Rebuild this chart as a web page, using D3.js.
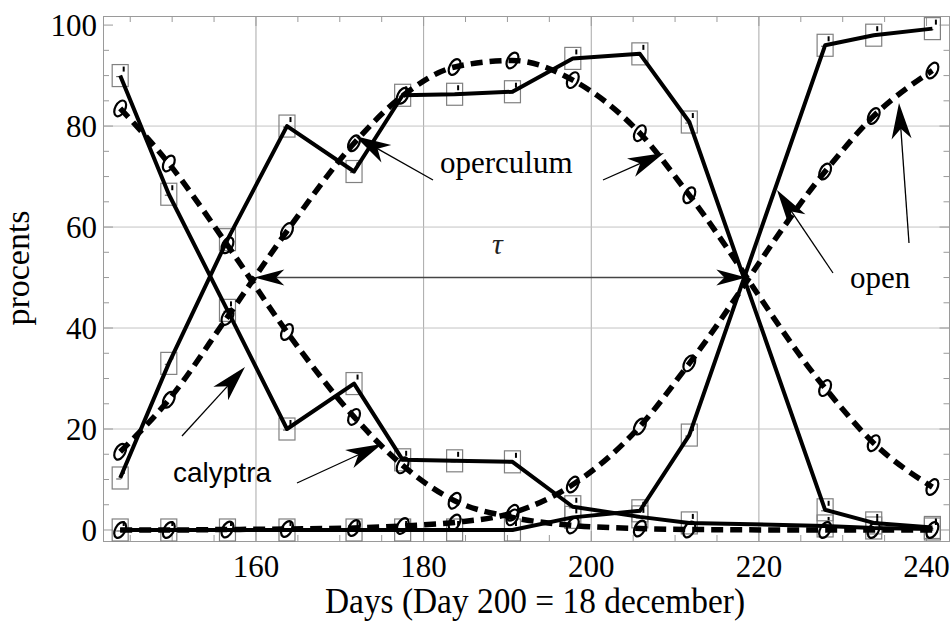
<!DOCTYPE html>
<html><head><meta charset="utf-8">
<script src="https://cdn.jsdelivr.net/npm/d3@7"></script>
<style>body{margin:0;background:#fff}svg{display:block}</style>
</head><body><svg id="c" width="951" height="625"></svg>
<script>
// ---- data ----
const days           = [143.8, 149.6, 156.6, 163.7, 171.7, 177.5, 183.7, 190.6, 197.8, 205.8, 211.7, 227.9, 233.7, 240.7];
const calyptraObs    = [90, 66.5, 43.5, 20, 29, 13.9, 13.7, 13.5, 4.6, 2.6, 1.4, 0.8, 0.4, 0.2];
const operculumObs   = [10.3, 33, 57.5, 80, 71, 86.1, 86.3, 86.8, 93.4, 94.3, 80.8, 4, 1.4, 0.5];
const openObs        = [0, 0, 0, 0, 0, 0, 0, 0, 2.5, 3.8, 18.8, 96, 98, 99.3];
const calyptraModel  = [83.5, 72.6, 56.4, 39.2, 22.4, 12.8, 5.8, 2.5, 0.9, 0.3, 0.1, 0, 0, 0];
const operculumModel = [15.5, 25.8, 42.2, 59.2, 76.6, 86, 91.7, 93, 89.1, 78.6, 66.3, 28.1, 17.2, 8.5];
const openModel      = [0, 0, 0.1, 0.2, 0.4, 0.8, 1.5, 3.4, 9, 20.5, 33, 71, 82, 91];
const xTickLabels = [160, 180, 200, 220, 240];
const yTickLabels = [0, 20, 40, 60, 80, 100];
const xGrid = [160, 180, 200, 220];
const yGrid = [20, 40, 60, 80];
const tauStart = 159.8, tauEnd = 218.5, tauLevel = 50;

// ---- drawing ----
const svg = d3.select('#c');
const L = 103, R = 949.5, T = 16, B = 541;
const x = d3.scaleLinear().domain([141.75, 242.8]).range([L, 950]);
const y = d3.scaleLinear().domain([-2.18, 101.8]).range([B, T]);
const serif = "'Liberation Serif','Times New Roman',serif";
const sans = "'Liberation Sans',Arial,sans-serif";

// grid
svg.append('g').selectAll('line').data(xGrid).join('line')
  .attr('x1', d => x(d)).attr('x2', d => x(d)).attr('y1', T).attr('y2', B)
  .attr('stroke', '#a8a8a8').attr('stroke-width', 1);
svg.append('g').selectAll('line').data(yGrid).join('line')
  .attr('y1', d => y(d)).attr('y2', d => y(d)).attr('x1', L).attr('x2', R)
  .attr('stroke', '#c4c4c4').attr('stroke-width', 1);

// frame
svg.append('rect').attr('x', L + 0.5).attr('y', T + 0.5).attr('width', R - L - 0.5).attr('height', B - T)
  .attr('fill', 'none').attr('stroke', '#9a9a9a').attr('stroke-width', 1);

// ticks
const tk = svg.append('g').attr('stroke', '#9a9a9a').attr('stroke-width', 1);
const xMinor = d3.range(145, 242, 5), yMinor = d3.range(0, 101, 5);
xMinor.forEach(d => {
  const len = d % 20 === 0 ? 10 : 6;
  tk.append('line').attr('x1', x(d)).attr('x2', x(d)).attr('y1', B).attr('y2', B - len);
  tk.append('line').attr('x1', x(d)).attr('x2', x(d)).attr('y1', T).attr('y2', T + len);
});
yMinor.forEach(d => {
  const len = d % 20 === 0 ? 10 : 6;
  tk.append('line').attr('y1', y(d)).attr('y2', y(d)).attr('x1', L).attr('x2', L + len);
  tk.append('line').attr('y1', y(d)).attr('y2', y(d)).attr('x1', R).attr('x2', R - len);
});

// tick labels
svg.append('g').selectAll('text').data(yTickLabels).join('text')
  .attr('x', 97).attr('y', d => y(d)).attr('dy', '0.35em').attr('text-anchor', 'end')
  .attr('font-family', serif).attr('font-size', 31).text(d => d);
svg.append('g').selectAll('text').data(xTickLabels).join('text')
  .attr('x', d => x(d)).attr('y', 577).attr('text-anchor', 'middle')
  .attr('font-family', serif).attr('font-size', 31).text(d => d);

// axis titles
svg.append('text').attr('x', 535).attr('y', 613).attr('text-anchor', 'middle')
  .attr('font-family', serif).attr('font-size', 36)
  .attr('textLength', 420).attr('lengthAdjust', 'spacingAndGlyphs')
  .text('Days (Day 200 = 18 december)');
svg.append('text').attr('transform', 'translate(29,268) rotate(-90)').attr('text-anchor', 'middle')
  .attr('font-family', serif).attr('font-size', 34).text('procents');

// markers: squares (observations)
const obsSeries = [calyptraObs, operculumObs, openObs];
const modSeries = [calyptraModel, operculumModel, openModel];
const sq = svg.append('g');
obsSeries.forEach(vals => {
  vals.forEach((v, i) => {
    const cx = x(days[i]), cy = y(v);
    sq.append('rect').attr('x', cx - 8).attr('y', cy - 11).attr('width', 16).attr('height', 22)
      .attr('fill', 'none').attr('stroke', '#808080').attr('stroke-width', 1.2);
    sq.append('line').attr('x1', cx + 3.5).attr('x2', cx + 3.5).attr('y1', cy - 9).attr('y2', cy - 4)
      .attr('stroke', '#000').attr('stroke-width', 2);
    sq.append('line').attr('x1', cx - 4).attr('x2', cx + 1).attr('y1', cy + 1).attr('y2', cy + 1)
      .attr('stroke', '#666').attr('stroke-width', 1.2);
  });
});

// lines
const solid = d3.line().x((d, i) => x(days[i])).y(d => y(d));
const smooth = d3.line().x((d, i) => x(days[i])).y(d => y(d)).curve(d3.curveMonotoneX);
obsSeries.forEach(vals => {
  svg.append('path').attr('d', solid(vals)).attr('fill', 'none').attr('stroke', '#000')
    .attr('stroke-width', 4).attr('stroke-linejoin', 'round');
});
modSeries.forEach(vals => {
  svg.append('path').attr('d', smooth(vals)).attr('fill', 'none').attr('stroke', '#000')
    .attr('stroke-width', 5.5).attr('stroke-dasharray', '12,7');
});

// markers: theta-like ellipses (model)
const th = svg.append('g');
modSeries.forEach(vals => {
  vals.forEach((v, i) => {
    const g = th.append('g').attr('transform', `translate(${x(days[i])},${y(v)}) rotate(28)`);
    g.append('ellipse').attr('rx', 5).attr('ry', 8.5).attr('fill', 'none')
      .attr('stroke', '#000').attr('stroke-width', 2.2);
  });
});

// arrows
function arrow(x1, y1, x2, y2, len, wid, sw, color) {
  const a = Math.atan2(y2 - y1, x2 - x1);
  const nx = x2 - Math.cos(a) * len * 0.7, ny = y2 - Math.sin(a) * len * 0.7;
  svg.append('line').attr('x1', x1).attr('y1', y1).attr('x2', nx).attr('y2', ny)
    .attr('stroke', color).attr('stroke-width', sw);
  svg.append('path').attr('d', `M0,0 L${-len},${-wid / 2} L${-len * 0.72},0 L${-len},${wid / 2} Z`)
    .attr('transform', `translate(${x2},${y2}) rotate(${a * 180 / Math.PI})`).attr('fill', color);
}
// tau double arrow
const tx1 = x(tauStart), tx2 = x(tauEnd), ty = y(tauLevel);
svg.append('line').attr('x1', tx1 + 20).attr('x2', tx2 - 20).attr('y1', ty).attr('y2', ty)
  .attr('stroke', '#444').attr('stroke-width', 1.5);
[[tx1, -1], [tx2, 1]].forEach(([px, s]) => {
  svg.append('path').attr('d', `M0,0 L${-30},${-8} L${-22},0 L${-30},${8} Z`)
    .attr('transform', `translate(${px},${ty}) rotate(${s > 0 ? 0 : 180})`).attr('fill', '#000');
});
svg.append('text').attr('x', x(188.8)).attr('y', 254).attr('text-anchor', 'middle')
  .attr('font-family', serif).attr('font-style', 'italic').attr('font-size', 30).attr('fill', '#222').text('τ');

// annotation arrows (pixel layout)
arrow(433, 180, 355, 136, 36, 20, 1.3, '#000');
arrow(603, 180, 664, 153, 36, 20, 1.3, '#000');
arrow(182, 436, 245, 367, 36, 20, 1.3, '#000');
arrow(297, 483, 382, 444, 36, 20, 1.3, '#000');
arrow(833, 273, 777, 190, 36, 20, 1.3, '#000');
arrow(909, 243, 899, 103, 36, 20, 1.3, '#000');

// annotation texts
svg.append('text').attr('x', 440).attr('y', 173).attr('font-family', serif).attr('font-size', 31).text('operculum');
svg.append('text').attr('x', 173).attr('y', 482).attr('font-family', sans).attr('font-size', 28).text('calyptra');
svg.append('text').attr('x', 850).attr('y', 288).attr('font-family', serif).attr('font-size', 31).text('open');
</script></body></html>
